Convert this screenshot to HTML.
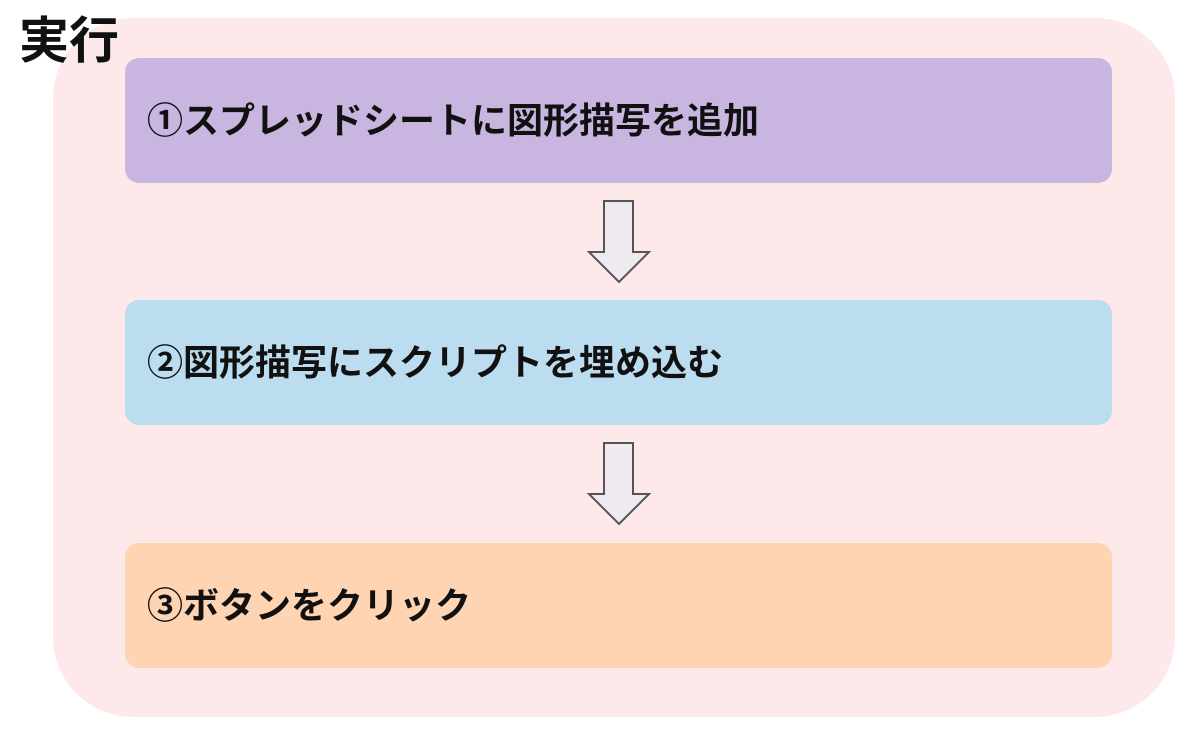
<!DOCTYPE html>
<html><head><meta charset="utf-8"><style>
body{margin:0;width:1200px;height:745px;background:#fff;position:relative;overflow:hidden;font-family:"Liberation Sans","Noto Sans CJK JP",sans-serif;}
.outer{position:absolute;left:53px;top:18px;width:1122px;height:699px;background:#fde8ea;border-radius:80px;}
.t{position:absolute;left:19px;top:10px;font-size:50px;font-weight:bold;color:#111;line-height:62px;}
.b{position:absolute;left:125px;width:987px;height:125px;border-radius:14px;font-size:36px;font-weight:bold;color:#111;line-height:125px;padding-left:22px;box-sizing:border-box;}
svg{position:absolute;left:0;top:0}
</style></head><body>
<div class="outer"></div>
<div class="t">実行</div>
<div class="b" style="top:58px;background:#c8b6e0">①スプレッドシートに図形描写を追加</div>
<div class="b" style="top:300px;background:#bcdcef">②図形描写にスクリプトを埋め込む</div>
<div class="b" style="top:543px;background:#fed4b2">③ボタンをクリック</div>
<svg width="1200" height="745">
<polygon points="604,201 633,201 633,252 649,252 619,282 589,252 604,252" fill="#eeeaf0" stroke="#555" stroke-width="2"/>
<polygon points="604,443 633,443 633,494 649,494 619,524 589,494 604,494" fill="#eeeaf0" stroke="#555" stroke-width="2"/>
</svg>
</body></html>
